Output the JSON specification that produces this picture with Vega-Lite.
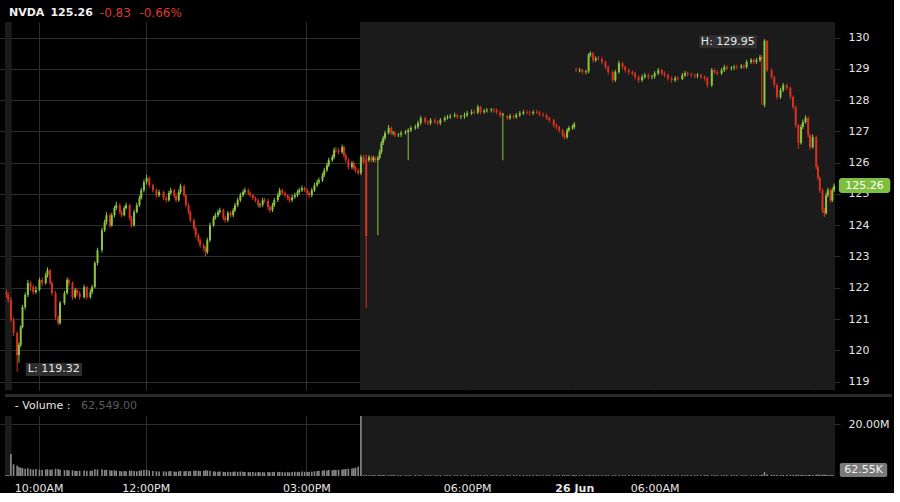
{
"$schema": "https://vega.github.io/schema/vega-lite/v6.json",
"background": "#000000",
"padding": {"left": 0, "top": 7, "right": 0, "bottom": 0},
"spacing": 3,
"config": {"view": {"stroke": null}, "font": "DejaVu Sans",
  "axis": {"domain": false, "ticks": false, "gridColor": "#2f2f2f", "labelColor": "#e6e6e6", "labelFont": "DejaVu Sans", "labelFontSize": 11, "labelOverlap": false}},
"datasets": {
"ext": [{"m": -7.6, "m2": 0}, {"m": 390, "m2": 922}],
"bars": [
{"m":-6,"o":121.85,"h":121.95,"l":121.68,"c":121.77,"v":0.4},
{"m":-4,"o":121.77,"h":121.85,"l":121.52,"c":121.61,"v":0.4},
{"m":-1,"o":121.61,"h":121.7,"l":120.9,"c":120.97,"v":8.5},
{"m":2,"o":120.97,"h":121.05,"l":120.45,"c":120.55,"v":4.5},
{"m":6,"o":120.55,"h":120.6,"l":119.32,"c":119.85,"v":4},
{"m":8,"o":119.85,"h":120.25,"l":119.6,"c":120.17,"v":3.5},
{"m":10,"o":120.17,"h":120.8,"l":120.1,"c":120.74,"v":3.2},
{"m":12,"o":120.74,"h":121.45,"l":120.7,"c":121.38,"v":3},
{"m":15,"o":121.38,"h":121.85,"l":121.3,"c":121.77,"v":2.8},
{"m":18,"o":121.77,"h":122.25,"l":121.7,"c":122.15,"v":3},
{"m":21,"o":122.15,"h":122.22,"l":121.9,"c":122.02,"v":2.6},
{"m":24,"o":122.02,"h":122.1,"l":121.78,"c":121.86,"v":2.5},
{"m":27,"o":121.86,"h":122.05,"l":121.8,"c":121.93,"v":2.7},
{"m":31,"o":121.93,"h":122.32,"l":121.88,"c":122.25,"v":2.4},
{"m":34,"o":122.25,"h":122.33,"l":122.05,"c":122.15,"v":2.3},
{"m":38,"o":122.15,"h":122.48,"l":122.1,"c":122.4,"v":2.5},
{"m":40,"o":122.4,"h":122.65,"l":122.33,"c":122.56,"v":2.6},
{"m":43,"o":122.56,"h":122.6,"l":122.08,"c":122.15,"v":2.4},
{"m":45,"o":122.15,"h":122.2,"l":121.75,"c":121.83,"v":2.5},
{"m":49,"o":121.83,"h":121.9,"l":120.98,"c":121.06,"v":2.8},
{"m":52,"o":121.06,"h":121.12,"l":120.8,"c":120.87,"v":2.7},
{"m":54,"o":120.87,"h":121.58,"l":120.82,"c":121.51,"v":2.4},
{"m":59,"o":121.51,"h":121.9,"l":121.45,"c":121.83,"v":2.2},
{"m":62,"o":121.83,"h":122.33,"l":121.78,"c":122.25,"v":2.3},
{"m":64,"o":122.25,"h":122.3,"l":122.05,"c":122.15,"v":2.1},
{"m":68,"o":122.15,"h":122.2,"l":121.62,"c":121.7,"v":2.2},
{"m":71,"o":121.7,"h":122.0,"l":121.65,"c":121.93,"v":2.0},
{"m":73,"o":121.93,"h":121.98,"l":121.75,"c":121.83,"v":1.9},
{"m":76,"o":121.83,"h":121.9,"l":121.62,"c":121.7,"v":2.0},
{"m":81,"o":121.7,"h":122.1,"l":121.65,"c":122.02,"v":2.1},
{"m":84,"o":122.02,"h":122.06,"l":121.62,"c":121.7,"v":1.9},
{"m":88,"o":121.7,"h":121.95,"l":121.65,"c":121.86,"v":2.0},
{"m":90,"o":121.86,"h":122.1,"l":121.8,"c":122.02,"v":2.1},
{"m":93,"o":122.02,"h":122.85,"l":121.98,"c":122.79,"v":2.6},
{"m":96,"o":122.79,"h":123.28,"l":122.72,"c":123.2,"v":2.5},
{"m":101,"o":123.2,"h":123.92,"l":123.12,"c":123.84,"v":2.6},
{"m":104,"o":123.84,"h":124.18,"l":123.78,"c":124.1,"v":2.3},
{"m":106,"o":124.1,"h":124.42,"l":124.02,"c":124.32,"v":2.4},
{"m":110,"o":124.32,"h":124.38,"l":123.92,"c":124.0,"v":2.2},
{"m":112,"o":124.0,"h":124.4,"l":123.95,"c":124.32,"v":2.1},
{"m":115,"o":124.32,"h":124.62,"l":124.25,"c":124.55,"v":2.2},
{"m":117,"o":124.55,"h":124.75,"l":124.48,"c":124.64,"v":2.0},
{"m":121,"o":124.64,"h":124.7,"l":124.35,"c":124.42,"v":1.9},
{"m":123,"o":124.42,"h":124.48,"l":124.25,"c":124.32,"v":1.8},
{"m":126,"o":124.32,"h":124.62,"l":124.28,"c":124.55,"v":1.9},
{"m":128,"o":124.55,"h":124.72,"l":124.5,"c":124.64,"v":1.8},
{"m":132,"o":124.64,"h":124.68,"l":124.15,"c":124.23,"v":2.0},
{"m":134,"o":124.23,"h":124.3,"l":123.92,"c":124.0,"v":2.1},
{"m":137,"o":124.0,"h":124.5,"l":123.95,"c":124.42,"v":1.9},
{"m":140,"o":124.42,"h":124.72,"l":124.38,"c":124.64,"v":1.8},
{"m":143,"o":124.64,"h":124.95,"l":124.58,"c":124.87,"v":2.0},
{"m":145,"o":124.87,"h":125.2,"l":124.82,"c":125.12,"v":2.2},
{"m":148,"o":125.12,"h":125.46,"l":125.05,"c":125.38,"v":2.3},
{"m":151,"o":125.38,"h":125.62,"l":125.3,"c":125.51,"v":2.4},
{"m":154,"o":125.51,"h":125.56,"l":125.2,"c":125.28,"v":2.1},
{"m":158,"o":125.28,"h":125.33,"l":125.05,"c":125.12,"v":1.9},
{"m":162,"o":125.12,"h":125.18,"l":124.88,"c":124.96,"v":1.8},
{"m":165,"o":124.96,"h":125.14,"l":124.9,"c":125.06,"v":1.7},
{"m":170,"o":125.06,"h":125.1,"l":124.8,"c":124.87,"v":1.8},
{"m":173,"o":124.87,"h":124.93,"l":124.72,"c":124.8,"v":1.7},
{"m":176,"o":124.8,"h":125.1,"l":124.75,"c":125.03,"v":1.8},
{"m":178,"o":125.03,"h":125.2,"l":124.98,"c":125.12,"v":1.9},
{"m":182,"o":125.12,"h":125.17,"l":124.86,"c":124.93,"v":1.7},
{"m":184,"o":124.93,"h":124.98,"l":124.73,"c":124.8,"v":1.6},
{"m":187,"o":124.8,"h":125.14,"l":124.75,"c":125.06,"v":1.8},
{"m":189,"o":125.06,"h":125.33,"l":125.0,"c":125.25,"v":1.9},
{"m":193,"o":125.25,"h":125.3,"l":124.9,"c":124.96,"v":1.8},
{"m":195,"o":124.96,"h":125.0,"l":124.57,"c":124.64,"v":1.9},
{"m":198,"o":124.64,"h":124.7,"l":124.35,"c":124.42,"v":1.8},
{"m":200,"o":124.42,"h":124.48,"l":124.08,"c":124.16,"v":1.9},
{"m":204,"o":124.16,"h":124.22,"l":123.83,"c":123.91,"v":2.0},
{"m":206,"o":123.91,"h":123.96,"l":123.6,"c":123.68,"v":2.1},
{"m":209,"o":123.68,"h":123.74,"l":123.45,"c":123.52,"v":2.0},
{"m":211,"o":123.52,"h":123.58,"l":123.28,"c":123.36,"v":1.9},
{"m":215,"o":123.36,"h":123.42,"l":123.18,"c":123.27,"v":2.0},
{"m":217,"o":123.27,"h":123.32,"l":123.0,"c":123.14,"v":2.2},
{"m":219,"o":123.14,"h":123.6,"l":123.08,"c":123.52,"v":2.1},
{"m":222,"o":123.52,"h":124.08,"l":123.46,"c":124.0,"v":2.0},
{"m":226,"o":124.0,"h":124.3,"l":123.95,"c":124.23,"v":1.8},
{"m":228,"o":124.23,"h":124.4,"l":124.18,"c":124.32,"v":1.7},
{"m":231,"o":124.32,"h":124.5,"l":124.26,"c":124.42,"v":1.6},
{"m":233,"o":124.42,"h":124.56,"l":124.36,"c":124.48,"v":1.7},
{"m":237,"o":124.48,"h":124.53,"l":124.16,"c":124.23,"v":1.6},
{"m":239,"o":124.23,"h":124.3,"l":124.08,"c":124.16,"v":1.5},
{"m":242,"o":124.16,"h":124.46,"l":124.1,"c":124.39,"v":1.6},
{"m":245,"o":124.39,"h":124.45,"l":124.25,"c":124.32,"v":1.5},
{"m":248,"o":124.32,"h":124.55,"l":124.26,"c":124.48,"v":1.6},
{"m":250,"o":124.48,"h":124.72,"l":124.42,"c":124.64,"v":1.7},
{"m":253,"o":124.64,"h":124.88,"l":124.58,"c":124.8,"v":1.6},
{"m":256,"o":124.8,"h":125.04,"l":124.74,"c":124.96,"v":1.7},
{"m":259,"o":124.96,"h":125.14,"l":124.9,"c":125.06,"v":1.6},
{"m":261,"o":125.06,"h":125.2,"l":125.0,"c":125.12,"v":1.5},
{"m":265,"o":125.12,"h":125.17,"l":124.96,"c":125.03,"v":1.5},
{"m":267,"o":125.03,"h":125.08,"l":124.9,"c":124.96,"v":1.4},
{"m":270,"o":124.96,"h":125.0,"l":124.8,"c":124.87,"v":1.5},
{"m":273,"o":124.87,"h":124.92,"l":124.73,"c":124.8,"v":1.4},
{"m":276,"o":124.8,"h":124.85,"l":124.57,"c":124.64,"v":1.5},
{"m":278,"o":124.64,"h":124.72,"l":124.56,"c":124.66,"v":1.4},
{"m":281,"o":124.66,"h":124.88,"l":124.58,"c":124.8,"v":1.5},
{"m":283,"o":124.8,"h":124.87,"l":124.72,"c":124.78,"v":1.4},
{"m":287,"o":124.78,"h":124.84,"l":124.5,"c":124.58,"v":1.5},
{"m":289,"o":124.58,"h":124.63,"l":124.4,"c":124.48,"v":1.4},
{"m":292,"o":124.48,"h":124.72,"l":124.42,"c":124.64,"v":1.5},
{"m":294,"o":124.64,"h":124.87,"l":124.58,"c":124.8,"v":1.6},
{"m":298,"o":124.8,"h":125.04,"l":124.74,"c":124.96,"v":1.5},
{"m":300,"o":124.96,"h":125.2,"l":124.9,"c":125.12,"v":1.6},
{"m":303,"o":125.12,"h":125.17,"l":124.96,"c":125.03,"v":1.5},
{"m":306,"o":125.03,"h":125.08,"l":124.88,"c":124.96,"v":1.4},
{"m":309,"o":124.96,"h":125.0,"l":124.8,"c":124.87,"v":1.5},
{"m":311,"o":124.87,"h":124.93,"l":124.72,"c":124.8,"v":1.4},
{"m":314,"o":124.8,"h":124.98,"l":124.74,"c":124.9,"v":1.5},
{"m":317,"o":124.9,"h":125.04,"l":124.84,"c":124.96,"v":1.6},
{"m":320,"o":124.96,"h":125.14,"l":124.9,"c":125.06,"v":1.5},
{"m":322,"o":125.06,"h":125.2,"l":125.0,"c":125.12,"v":1.6},
{"m":325,"o":125.12,"h":125.27,"l":125.06,"c":125.19,"v":1.7},
{"m":328,"o":125.19,"h":125.24,"l":125.05,"c":125.12,"v":1.6},
{"m":331,"o":125.12,"h":125.17,"l":124.96,"c":125.03,"v":1.5},
{"m":333,"o":125.03,"h":125.08,"l":124.88,"c":124.96,"v":1.6},
{"m":336,"o":124.96,"h":125.2,"l":124.9,"c":125.12,"v":1.7},
{"m":339,"o":125.12,"h":125.36,"l":125.06,"c":125.28,"v":1.8},
{"m":342,"o":125.28,"h":125.46,"l":125.22,"c":125.38,"v":1.9},
{"m":344,"o":125.38,"h":125.52,"l":125.32,"c":125.44,"v":2.0},
{"m":348,"o":125.44,"h":125.68,"l":125.38,"c":125.6,"v":2.1},
{"m":350,"o":125.6,"h":125.84,"l":125.54,"c":125.76,"v":2.2},
{"m":353,"o":125.76,"h":126.0,"l":125.7,"c":125.92,"v":2.1},
{"m":355,"o":125.92,"h":126.16,"l":125.86,"c":126.08,"v":2.3},
{"m":359,"o":126.08,"h":126.26,"l":126.02,"c":126.18,"v":2.2},
{"m":361,"o":126.18,"h":126.48,"l":126.12,"c":126.4,"v":2.4},
{"m":363,"o":126.4,"h":126.5,"l":126.32,"c":126.38,"v":2.3},
{"m":366,"o":126.38,"h":126.46,"l":126.26,"c":126.34,"v":2.4},
{"m":370,"o":126.34,"h":126.58,"l":126.28,"c":126.5,"v":2.5},
{"m":372,"o":126.5,"h":126.55,"l":126.16,"c":126.24,"v":2.6},
{"m":374,"o":126.24,"h":126.3,"l":126.0,"c":126.08,"v":2.7},
{"m":377,"o":126.08,"h":126.14,"l":125.78,"c":125.86,"v":2.8},
{"m":381,"o":125.86,"h":126.06,"l":125.8,"c":125.99,"v":2.9},
{"m":383,"o":125.99,"h":126.04,"l":125.75,"c":125.83,"v":3.0},
{"m":385,"o":125.83,"h":125.9,"l":125.68,"c":125.76,"v":3.2},
{"m":388,"o":125.76,"h":125.82,"l":125.6,"c":125.67,"v":3.6},
{"m":391,"o":125.67,"h":126.25,"l":125.6,"c":126.18,"v":30},
{"m":394,"o":126.18,"h":126.24,"l":125.95,"c":126.02,"v":0.3},
{"m":397,"o":126.1,"h":126.25,"l":121.35,"c":123.65,"v":0.4},
{"m":400,"o":126.08,"h":126.24,"l":126.02,"c":126.18,"v":0.3},
{"m":403,"o":126.18,"h":126.23,"l":126.0,"c":126.08,"v":0.3},
{"m":405,"o":126.08,"h":126.22,"l":126.02,"c":126.15,"v":0.3},
{"m":407,"o":126.15,"h":126.2,"l":126.0,"c":126.08,"v":0.3},
{"m":410,"o":126.08,"h":126.22,"l":123.68,"c":126.15,"v":0.3},
{"m":412,"o":126.15,"h":126.42,"l":126.1,"c":126.34,"v":0.3},
{"m":414,"o":126.34,"h":126.7,"l":126.28,"c":126.63,"v":0.3},
{"m":416,"o":126.63,"h":126.86,"l":126.56,"c":126.79,"v":0.3},
{"m":418,"o":126.79,"h":127.02,"l":126.72,"c":126.95,"v":0.3},
{"m":422,"o":126.95,"h":127.2,"l":126.9,"c":127.11,"v":0.3},
{"m":425,"o":127.11,"h":127.16,"l":126.88,"c":126.95,"v":0.3},
{"m":427,"o":126.95,"h":127.02,"l":126.88,"c":126.97,"v":0.3},
{"m":429,"o":126.97,"h":127.0,"l":126.82,"c":126.88,"v":0.3},
{"m":433,"o":126.88,"h":126.95,"l":126.82,"c":126.9,"v":0.3},
{"m":436,"o":126.9,"h":127.02,"l":126.82,"c":126.95,"v":0.3},
{"m":441,"o":126.95,"h":127.05,"l":126.9,"c":126.98,"v":0.3},
{"m":444,"o":126.98,"h":127.1,"l":126.08,"c":127.04,"v":0.3},
{"m":447,"o":127.04,"h":127.18,"l":126.98,"c":127.11,"v":0.3},
{"m":452,"o":127.11,"h":127.22,"l":127.05,"c":127.14,"v":0.3},
{"m":455,"o":127.14,"h":127.34,"l":127.08,"c":127.27,"v":0.3},
{"m":458,"o":127.27,"h":127.5,"l":127.2,"c":127.43,"v":0.3},
{"m":463,"o":127.43,"h":127.48,"l":127.24,"c":127.3,"v":0.3},
{"m":466,"o":127.3,"h":127.36,"l":127.2,"c":127.27,"v":0.3},
{"m":469,"o":127.27,"h":127.43,"l":127.2,"c":127.36,"v":0.3},
{"m":474,"o":127.36,"h":127.42,"l":127.24,"c":127.3,"v":0.3},
{"m":477,"o":127.3,"h":127.36,"l":127.2,"c":127.27,"v":0.3},
{"m":480,"o":127.27,"h":127.43,"l":127.2,"c":127.36,"v":0.3},
{"m":485,"o":127.36,"h":127.5,"l":127.3,"c":127.43,"v":0.3},
{"m":488,"o":127.43,"h":127.53,"l":127.38,"c":127.46,"v":0.3},
{"m":491,"o":127.46,"h":127.56,"l":127.4,"c":127.49,"v":0.3},
{"m":496,"o":127.49,"h":127.6,"l":127.44,"c":127.52,"v":0.3},
{"m":499,"o":127.52,"h":127.57,"l":127.4,"c":127.46,"v":0.3},
{"m":503,"o":127.46,"h":127.53,"l":127.39,"c":127.48,"v":0.3},
{"m":507,"o":127.48,"h":127.6,"l":127.4,"c":127.52,"v":0.3},
{"m":510,"o":127.52,"h":127.65,"l":127.46,"c":127.58,"v":0.3},
{"m":515,"o":127.58,"h":127.7,"l":127.52,"c":127.62,"v":0.3},
{"m":518,"o":127.62,"h":127.69,"l":127.55,"c":127.6,"v":0.3},
{"m":522,"o":127.6,"h":127.85,"l":127.56,"c":127.78,"v":0.3},
{"m":525,"o":127.78,"h":127.82,"l":127.55,"c":127.62,"v":0.3},
{"m":529,"o":127.62,"h":127.72,"l":127.56,"c":127.65,"v":0.3},
{"m":532,"o":127.65,"h":127.75,"l":127.6,"c":127.68,"v":0.3},
{"m":537,"o":127.68,"h":127.75,"l":127.61,"c":127.7,"v":0.3},
{"m":540,"o":127.7,"h":127.75,"l":127.6,"c":127.68,"v":0.3},
{"m":543,"o":127.68,"h":127.73,"l":127.55,"c":127.62,"v":0.3},
{"m":547,"o":127.62,"h":127.67,"l":127.45,"c":127.52,"v":0.3},
{"m":550,"o":127.52,"h":127.6,"l":126.08,"c":127.56,"v":0.3},
{"m":555,"o":127.5,"h":127.52,"l":127.36,"c":127.43,"v":0.3},
{"m":558,"o":127.43,"h":127.56,"l":127.37,"c":127.49,"v":0.3},
{"m":562,"o":127.49,"h":127.54,"l":127.4,"c":127.46,"v":0.3},
{"m":565,"o":127.46,"h":127.59,"l":127.4,"c":127.52,"v":0.3},
{"m":569,"o":127.52,"h":127.65,"l":127.46,"c":127.58,"v":0.3},
{"m":573,"o":127.58,"h":127.69,"l":127.52,"c":127.62,"v":0.3},
{"m":577,"o":127.62,"h":127.69,"l":127.55,"c":127.6,"v":0.3},
{"m":580,"o":127.6,"h":127.66,"l":127.5,"c":127.58,"v":0.3},
{"m":584,"o":127.58,"h":127.69,"l":127.52,"c":127.62,"v":0.3},
{"m":588,"o":127.62,"h":127.69,"l":127.55,"c":127.6,"v":0.3},
{"m":591,"o":127.6,"h":127.67,"l":127.48,"c":127.55,"v":0.3},
{"m":595,"o":127.55,"h":127.6,"l":127.45,"c":127.52,"v":0.3},
{"m":599,"o":127.52,"h":127.57,"l":127.36,"c":127.43,"v":0.3},
{"m":602,"o":127.43,"h":127.48,"l":127.28,"c":127.36,"v":0.3},
{"m":607,"o":127.36,"h":127.41,"l":127.12,"c":127.2,"v":0.3},
{"m":610,"o":127.2,"h":127.26,"l":127.06,"c":127.14,"v":0.3},
{"m":613,"o":127.14,"h":127.19,"l":126.96,"c":127.04,"v":0.3},
{"m":617,"o":127.04,"h":127.09,"l":126.8,"c":126.88,"v":0.3},
{"m":619,"o":126.88,"h":126.94,"l":126.74,"c":126.82,"v":0.3},
{"m":622,"o":126.82,"h":127.1,"l":126.76,"c":127.04,"v":0.3},
{"m":624,"o":127.04,"h":127.18,"l":126.98,"c":127.11,"v":0.3},
{"m":628,"o":127.11,"h":127.22,"l":127.05,"c":127.14,"v":0.3},
{"m":630,"o":127.14,"h":127.3,"l":127.08,"c":127.23,"v":0.3},
{"m":632,"o":128.98,"h":129.04,"l":128.9,"c":128.96,"v":0.3},
{"m":636,"o":128.96,"h":129.03,"l":128.89,"c":128.98,"v":0.3},
{"m":639,"o":128.98,"h":129.0,"l":128.83,"c":128.9,"v":0.3},
{"m":643,"o":128.9,"h":128.97,"l":128.83,"c":128.92,"v":0.3},
{"m":646,"o":128.92,"h":129.5,"l":128.86,"c":129.44,"v":0.3},
{"m":648,"o":129.44,"h":129.56,"l":129.38,"c":129.5,"v":0.3},
{"m":651,"o":129.5,"h":129.54,"l":129.2,"c":129.28,"v":0.3},
{"m":654,"o":129.28,"h":129.4,"l":129.22,"c":129.34,"v":0.3},
{"m":657,"o":129.34,"h":129.41,"l":129.27,"c":129.32,"v":0.3},
{"m":661,"o":129.32,"h":129.39,"l":129.15,"c":129.22,"v":0.3},
{"m":665,"o":129.22,"h":129.27,"l":128.98,"c":129.06,"v":0.3},
{"m":668,"o":129.06,"h":129.11,"l":128.82,"c":128.9,"v":0.3},
{"m":673,"o":128.9,"h":128.95,"l":128.56,"c":128.64,"v":0.3},
{"m":676,"o":128.64,"h":128.97,"l":128.58,"c":128.9,"v":0.3},
{"m":680,"o":128.9,"h":129.26,"l":128.84,"c":129.18,"v":0.3},
{"m":684,"o":129.18,"h":129.23,"l":128.98,"c":129.06,"v":0.3},
{"m":687,"o":129.06,"h":129.11,"l":128.88,"c":128.96,"v":0.3},
{"m":691,"o":128.96,"h":129.02,"l":128.82,"c":128.9,"v":0.3},
{"m":695,"o":128.9,"h":128.96,"l":128.79,"c":128.86,"v":0.3},
{"m":698,"o":128.86,"h":128.91,"l":128.66,"c":128.74,"v":0.3},
{"m":702,"o":128.74,"h":128.79,"l":128.56,"c":128.64,"v":0.3},
{"m":706,"o":128.64,"h":128.82,"l":128.58,"c":128.74,"v":0.3},
{"m":709,"o":128.74,"h":128.87,"l":128.68,"c":128.8,"v":0.3},
{"m":713,"o":128.8,"h":128.86,"l":128.67,"c":128.74,"v":0.3},
{"m":717,"o":128.74,"h":128.81,"l":128.67,"c":128.76,"v":0.3},
{"m":720,"o":128.76,"h":128.93,"l":128.68,"c":128.86,"v":0.3},
{"m":724,"o":128.86,"h":129.03,"l":128.8,"c":128.96,"v":0.3},
{"m":728,"o":128.96,"h":129.01,"l":128.79,"c":128.86,"v":0.3},
{"m":731,"o":128.86,"h":128.92,"l":128.73,"c":128.8,"v":0.3},
{"m":735,"o":128.8,"h":128.85,"l":128.62,"c":128.7,"v":0.3},
{"m":739,"o":128.7,"h":128.76,"l":128.56,"c":128.64,"v":0.3},
{"m":743,"o":128.64,"h":128.77,"l":128.58,"c":128.7,"v":0.3},
{"m":746,"o":128.7,"h":128.77,"l":128.63,"c":128.68,"v":0.3},
{"m":751,"o":128.68,"h":128.87,"l":128.64,"c":128.8,"v":0.3},
{"m":754,"o":128.8,"h":128.93,"l":128.74,"c":128.86,"v":0.3},
{"m":757,"o":128.86,"h":128.91,"l":128.76,"c":128.83,"v":0.3},
{"m":761,"o":128.83,"h":128.88,"l":128.73,"c":128.8,"v":0.3},
{"m":765,"o":128.8,"h":128.85,"l":128.7,"c":128.77,"v":0.3},
{"m":768,"o":128.77,"h":128.87,"l":128.7,"c":128.8,"v":0.3},
{"m":772,"o":128.8,"h":128.85,"l":128.67,"c":128.74,"v":0.3},
{"m":776,"o":128.74,"h":128.8,"l":128.62,"c":128.7,"v":0.3},
{"m":779,"o":128.7,"h":128.75,"l":128.4,"c":128.48,"v":0.4},
{"m":784,"o":128.48,"h":129.03,"l":128.42,"c":128.96,"v":0.3},
{"m":787,"o":128.96,"h":129.01,"l":128.83,"c":128.9,"v":0.3},
{"m":790,"o":128.9,"h":128.96,"l":128.79,"c":128.86,"v":0.3},
{"m":795,"o":128.86,"h":129.03,"l":128.8,"c":128.96,"v":0.3},
{"m":798,"o":128.96,"h":129.13,"l":128.9,"c":129.06,"v":0.3},
{"m":801,"o":129.06,"h":129.11,"l":128.95,"c":129.02,"v":0.3},
{"m":806,"o":129.02,"h":129.09,"l":128.95,"c":129.04,"v":0.3},
{"m":809,"o":129.04,"h":129.13,"l":128.96,"c":129.06,"v":0.3},
{"m":812,"o":129.06,"h":129.13,"l":128.99,"c":129.05,"v":0.3},
{"m":817,"o":129.05,"h":129.16,"l":129.0,"c":129.09,"v":0.3},
{"m":820,"o":129.09,"h":129.14,"l":128.99,"c":129.06,"v":0.3},
{"m":823,"o":129.06,"h":129.29,"l":129.0,"c":129.22,"v":0.3},
{"m":828,"o":129.22,"h":129.35,"l":129.16,"c":129.28,"v":0.3},
{"m":831,"o":129.28,"h":129.33,"l":129.15,"c":129.22,"v":0.3},
{"m":834,"o":129.22,"h":129.35,"l":129.16,"c":129.28,"v":0.3},
{"m":838,"o":129.28,"h":129.45,"l":129.22,"c":129.38,"v":0.3},
{"m":840,"o":129.38,"h":129.43,"l":127.85,"c":129.34,"v":0.5},
{"m":843,"o":127.85,"h":129.95,"l":127.78,"c":129.9,"v":1.5},
{"m":846,"o":129.9,"h":129.92,"l":128.9,"c":128.96,"v":0.6},
{"m":851,"o":128.96,"h":129.01,"l":128.67,"c":128.74,"v":0.4},
{"m":854,"o":128.74,"h":128.79,"l":128.4,"c":128.48,"v":0.4},
{"m":857,"o":128.48,"h":128.53,"l":128.02,"c":128.1,"v":0.4},
{"m":861,"o":128.1,"h":128.4,"l":128.04,"c":128.32,"v":0.4},
{"m":864,"o":128.32,"h":128.55,"l":128.26,"c":128.48,"v":0.4},
{"m":868,"o":128.48,"h":128.53,"l":128.32,"c":128.39,"v":0.4},
{"m":872,"o":128.39,"h":128.44,"l":128.02,"c":128.1,"v":0.4},
{"m":875,"o":128.1,"h":128.15,"l":127.7,"c":127.78,"v":0.4},
{"m":878,"o":127.78,"h":127.83,"l":127.12,"c":127.2,"v":0.5},
{"m":881,"o":127.2,"h":127.25,"l":126.45,"c":126.63,"v":0.5},
{"m":884,"o":126.63,"h":127.22,"l":126.58,"c":127.14,"v":0.4},
{"m":886,"o":127.14,"h":127.38,"l":127.08,"c":127.3,"v":0.4},
{"m":889,"o":127.3,"h":127.52,"l":127.25,"c":127.43,"v":0.4},
{"m":892,"o":127.43,"h":127.48,"l":126.8,"c":126.88,"v":0.4},
{"m":894,"o":126.88,"h":126.93,"l":126.42,"c":126.5,"v":0.4},
{"m":897,"o":126.5,"h":126.9,"l":126.45,"c":126.82,"v":0.4},
{"m":901,"o":126.82,"h":126.87,"l":125.78,"c":125.86,"v":0.5},
{"m":903,"o":125.86,"h":125.92,"l":125.44,"c":125.51,"v":0.5},
{"m":905,"o":125.51,"h":125.56,"l":125.04,"c":125.12,"v":0.5},
{"m":908,"o":125.12,"h":125.17,"l":124.4,"c":124.48,"v":0.5},
{"m":910,"o":124.48,"h":124.55,"l":124.26,"c":124.39,"v":0.5},
{"m":912,"o":124.39,"h":125.04,"l":124.33,"c":124.96,"v":0.4},
{"m":914,"o":124.96,"h":125.2,"l":124.9,"c":125.12,"v":0.4},
{"m":917,"o":125.12,"h":125.17,"l":124.72,"c":124.8,"v":0.4},
{"m":919,"o":124.8,"h":125.2,"l":124.74,"c":125.12,"v":0.4},
{"m":921,"o":125.12,"h":125.33,"l":125.06,"c":125.26,"v":0.06}
]},
"vconcat": [
{
 "width": 840, "height": 368,
 "layer": [
  {"data": {"name": "ext"}, "mark": {"type": "rect", "color": "#1b1b1b"},
   "encoding": {
    "x": {"field": "m", "type": "quantitative", "title": null,
      "scale": {"domain": [-7.6, 922], "nice": false, "zero": false},
      "axis": {"values": [30, 150, 330, 510, 630, 720, 900], "tickCount": 30, "labels": false, "grid": true}},
    "x2": {"field": "m2"}}},
  {"data": {"name": "bars"}, "mark": {"type": "rule", "strokeWidth": 1},
   "encoding": {
    "x": {"field": "m", "type": "quantitative", "title": null},
    "y": {"field": "l", "type": "quantitative", "title": null,
      "scale": {"domain": [118.73, 130.5], "nice": false, "zero": false},
      "axis": {"orient": "right", "values": [119,120,121,122,123,124,125,126,127,128,129,130], "tickCount": 30, "format": ".0f", "labelPadding": 8, "grid": true}},
    "y2": {"field": "h"},
    "color": {"condition": {"test": "datum.c >= datum.o", "value": "#8cc63e"}, "value": "#d8321f"}}},
  {"data": {"name": "bars"}, "mark": {"type": "bar", "width": 2},
   "encoding": {
    "x": {"field": "m", "type": "quantitative", "title": null},
    "y": {"field": "o", "type": "quantitative", "title": null,
      "axis": {"orient": "right", "values": [119,120,121,122,123,124,125,126,127,128,129,130], "tickCount": 30, "format": ".0f", "labelPadding": 8, "grid": true}},
    "y2": {"field": "c"},
    "color": {"condition": {"test": "datum.c >= datum.o", "value": "#8cc63e"}, "value": "#d8321f"}}},
  {"data": {"values": [{"t": "L: 119.32"}]}, "mark": {"type": "rect", "color": "#333333", "opacity": 0.9},
   "encoding": {"x": {"datum": 15.6}, "x2": {"datum": 78.7}, "y": {"datum": 119.59}, "y2": {"datum": 119.18}}},
  {"data": {"values": [{"t": "L: 119.32"}]}, "mark": {"type": "text", "color": "#e8e8e8", "fontSize": 11, "align": "center", "baseline": "middle"},
   "encoding": {"x": {"datum": 47}, "y": {"datum": 119.39}, "text": {"field": "t"}}},
  {"data": {"values": [{"t": "H: 129.95"}]}, "mark": {"type": "rect", "color": "#333333", "opacity": 0.9},
   "encoding": {"x": {"datum": 770.3}, "x2": {"datum": 834.5}, "y": {"datum": 130.08}, "y2": {"datum": 129.66}}},
  {"data": {"values": [{"t": "H: 129.95"}]}, "mark": {"type": "text", "color": "#e8e8e8", "fontSize": 11, "align": "center", "baseline": "middle"},
   "encoding": {"x": {"datum": 802}, "y": {"datum": 129.87}, "text": {"field": "t"}}},
  {"data": {"values": [{"t": "125.26"}]}, "mark": {"type": "rect", "color": "#7dbf3f", "cornerRadius": 3},
   "encoding": {"x": {"datum": 926.3}, "x2": {"datum": 984}, "y": {"datum": 125.51}, "y2": {"datum": 125.03}}},
  {"data": {"values": [{"t": "125.26"}]}, "mark": {"type": "text", "color": "#ffffff", "fontSize": 11, "align": "center", "baseline": "middle"},
   "encoding": {"x": {"datum": 955}, "y": {"datum": 125.27}, "text": {"field": "t"}}},
  {"data": {"values": [{"t": "NVDA"}]}, "mark": {"type": "text", "color": "#f2f2f2", "fontSize": 11, "fontWeight": "bold", "align": "left", "baseline": "middle"},
   "encoding": {"x": {"datum": -3.2}, "y": {"datum": 130.78}, "text": {"field": "t"}}},
  {"data": {"values": [{"t": "125.26"}]}, "mark": {"type": "text", "color": "#f2f2f2", "fontSize": 11, "fontWeight": "bold", "align": "left", "baseline": "middle"},
   "encoding": {"x": {"datum": 43.3}, "y": {"datum": 130.78}, "text": {"field": "t"}}},
  {"data": {"values": [{"t": "-0.83"}]}, "mark": {"type": "text", "color": "#df3a2b", "fontSize": 12, "align": "left", "baseline": "middle"},
   "encoding": {"x": {"datum": 98.6}, "y": {"datum": 130.78}, "text": {"field": "t"}}},
  {"data": {"values": [{"t": "-0.66%"}]}, "mark": {"type": "text", "color": "#df3a2b", "fontSize": 12, "align": "left", "baseline": "middle"},
   "encoding": {"x": {"datum": 142.9}, "y": {"datum": 130.78}, "text": {"field": "t"}}}
 ]
},
{
 "width": 840, "height": 60,
 "layer": [
  {"data": {"name": "ext"}, "mark": {"type": "rect", "color": "#1b1b1b"},
   "encoding": {
    "x": {"field": "m", "type": "quantitative", "title": null,
      "scale": {"domain": [-7.6, 922], "nice": false, "zero": false},
      "axis": {"values": [30, 150, 330, 510, 630, 720, 900], "tickCount": 30, "grid": true, "labelFlush": false, "labelPadding": 6,
        "labelExpr": "datum.value == 30 ? '10:00AM' : datum.value == 150 ? '12:00PM' : datum.value == 330 ? '03:00PM' : datum.value == 510 ? '06:00PM' : datum.value == 630 ? '26 Jun' : datum.value == 720 ? '06:00AM' : ''",
        "labelFontWeight": {"condition": {"test": "datum.value == 630", "value": "bold"}, "value": "normal"}}},
    "x2": {"field": "m2"}}},
  {"data": {"name": "bars"}, "mark": {"type": "bar", "width": 1.6, "color": "#8a8a8a", "clip": true},
   "encoding": {
    "x": {"field": "m", "type": "quantitative", "title": null},
    "y": {"field": "v", "type": "quantitative", "title": null,
     "scale": {"domain": [0, 23.08], "nice": false, "zero": false},
     "axis": {"orient": "right", "values": [20], "labelPadding": 8, "grid": true, "labelExpr": "format(datum.value, '.2f') + 'M'"}}}},
  {"data": {"values": [{"t": "sep"}]}, "mark": {"type": "rule", "color": "#2a2a2a", "strokeWidth": 3},
   "encoding": {"x": {"datum": -7.6}, "x2": {"datum": 986}, "y": {"datum": 30.97}}},
  {"data": {"values": [{"t": "- Volume :"}]}, "mark": {"type": "text", "color": "#e6e6e6", "fontSize": 11, "align": "left", "baseline": "middle"},
   "encoding": {"x": {"datum": 3.4}, "y": {"datum": 26.93}, "text": {"field": "t"}}},
  {"data": {"values": [{"t": "62,549.00"}]}, "mark": {"type": "text", "color": "#5c5c5c", "fontSize": 11, "align": "left", "baseline": "middle"},
   "encoding": {"x": {"datum": 77.6}, "y": {"datum": 26.93}, "text": {"field": "t"}}},
  {"data": {"values": [{"t": "62.55K"}]}, "mark": {"type": "rect", "color": "#7a7a7a", "cornerRadius": 2},
   "encoding": {"x": {"datum": 927.4}, "x2": {"datum": 980.5}, "y": {"datum": 5.0}, "y2": {"datum": -0.38}}},
  {"data": {"values": [{"t": "62.55K"}]}, "mark": {"type": "text", "color": "#f0f0f0", "fontSize": 11, "align": "center", "baseline": "middle"},
   "encoding": {"x": {"datum": 954}, "y": {"datum": 2.3}, "text": {"field": "t"}}}
 ]
}
]
}
